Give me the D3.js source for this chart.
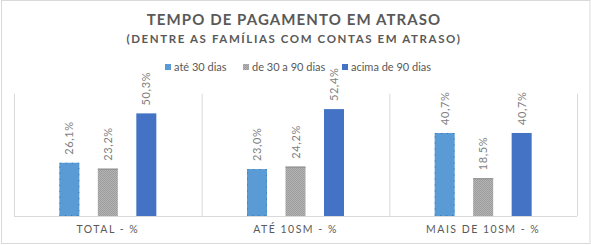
<!DOCTYPE html>
<html>
<head>
  <meta charset="utf-8">
  <script src="https://d3js.org/d3.v7.min.js"></script>
  <style>
    body { margin: 0; background: #fff; }
    svg { font-family: Lato, "Open Sans", Arial, sans-serif; }
  </style>
</head>
<body>
  <svg width="591" height="245"></svg>
  <script>
    const categories = ["TOTAL - %", "ATÉ 10SM - %", "MAIS DE 10SM - %"];
    const seriesNames = ["até 30 dias", "de 30 a 90 dias", "acima de 90 dias"];
    const ate30 = [26.1, 23.0, 40.7];
    const de30a90 = [23.2, 24.2, 18.5];
    const acima90 = [50.3, 52.4, 40.7];
    const seriesValues = [ate30, de30a90, acima90];

    const svg = d3.select("svg");
    const defs = svg.append("defs");
    const pat = defs.append("pattern").attr("id", "grey").attr("width", 2).attr("height", 2)
      .attr("patternUnits", "userSpaceOnUse");
    pat.append("rect").attr("width", 2).attr("height", 2).attr("fill", "#b4b4b4");
    pat.append("rect").attr("width", 1).attr("height", 1).attr("fill", "#9c9c9c");
    pat.append("rect").attr("x", 1).attr("y", 1).attr("width", 1).attr("height", 1).attr("fill", "#9c9c9c");

    // outer chart border
    svg.append("rect").attr("x", 1.5).attr("y", 0.5).attr("width", 588.5).attr("height", 243)
      .attr("fill", "none").attr("stroke", "#d9d9d9");

    // titles
    svg.append("text").attr("x", 294).attr("y", 24.5).attr("text-anchor", "middle")
      .attr("font-size", 15).attr("font-weight", "bold").attr("fill", "#595959")
      .attr("letter-spacing", 1.1).text("TEMPO DE PAGAMENTO EM ATRASO");
    svg.append("text").attr("x", 294).attr("y", 42.5).attr("text-anchor", "middle")
      .attr("font-size", 11.5).attr("font-weight", "bold").attr("fill", "#595959")
      .attr("letter-spacing", 1.6).text("(DENTRE AS FAMÍLIAS COM CONTAS EM ATRASO)");

    const x0 = d3.scaleBand().domain(categories).range([14, 577]);
    const x1 = d3.scaleBand().domain(seriesNames).range([0, 97]).paddingInner(0.48);
    const y = d3.scaleLinear().domain([0, 60]).range([216, 93.6]);

    const fills = ["#5b9bd5", "url(#grey)", "#4472c4"];
    const strokes = ["#2e75b6", "#8c8c8c", "none"];

    // category dividers
    const divs = categories.map(c => x0(c)).concat([x0.range()[1]]);
    svg.selectAll(".div").data(divs).enter().append("line")
      .attr("x1", d => d + 0.5).attr("x2", d => d + 0.5)
      .attr("y1", y(60)).attr("y2", y(0))
      .attr("stroke", "#d9d9d9");
    svg.append("line").attr("x1", 14).attr("x2", 577).attr("y1", y(0) + 0.5).attr("y2", y(0) + 0.5)
      .attr("stroke", "#d9d9d9");

    // legend
    const legX = [165, 243, 342];
    const leg = svg.selectAll(".leg").data(seriesNames).enter().append("g")
      .attr("transform", (d, i) => `translate(${legX[i]},67)`);
    leg.append("rect").attr("x", 0).attr("y", -3).attr("width", 6).attr("height", 6)
      .attr("fill", (d, i) => fills[i]);
    leg.append("text").attr("x", 9).attr("y", 4).attr("font-size", 11).attr("fill", "#595959")
      .text(d => d);

    // bars
    seriesValues.forEach((vals, s) => {
      const g = svg.append("g");
      vals.forEach((v, i) => {
        const cx = x0(categories[i]) + x0.bandwidth() / 2 - 48.5 + x1(seriesNames[s]);
        g.append("rect").attr("x", cx).attr("y", y(v)).attr("width", x1.bandwidth())
          .attr("height", y(0) - y(v)).attr("fill", fills[s]);
        if (s === 0) {
          g.append("rect").attr("x", cx + 0.5).attr("y", y(v) + 0.5).attr("width", x1.bandwidth() - 1)
            .attr("height", y(0) - y(v) - 1).attr("fill", "none").attr("stroke", strokes[s])
            .attr("stroke-dasharray", "1,5");
        } else if (s === 1) {
          g.append("line").attr("x1", cx).attr("x2", cx + x1.bandwidth())
            .attr("y1", y(v) + 0.5).attr("y2", y(v) + 0.5).attr("stroke", strokes[s]);
        }
        const lx = cx + x1.bandwidth() / 2 + 4;
        const ly = y(v) - 8;
        g.append("text").attr("transform", `translate(${lx},${ly}) rotate(-90)`)
          .attr("font-size", 11).attr("fill", "#7f7f7f").attr("letter-spacing", 0.6)
          .text(v.toFixed(1).replace(".", ",") + "%");
      });
    });

    // category labels
    svg.selectAll(".cat").data(categories).enter().append("text")
      .attr("x", d => x0(d) + x0.bandwidth() / 2).attr("y", 233)
      .attr("text-anchor", "middle").attr("font-size", 10.5).attr("fill", "#595959")
      .attr("letter-spacing", 1.5).text(d => d);
  </script>
</body>
</html>
